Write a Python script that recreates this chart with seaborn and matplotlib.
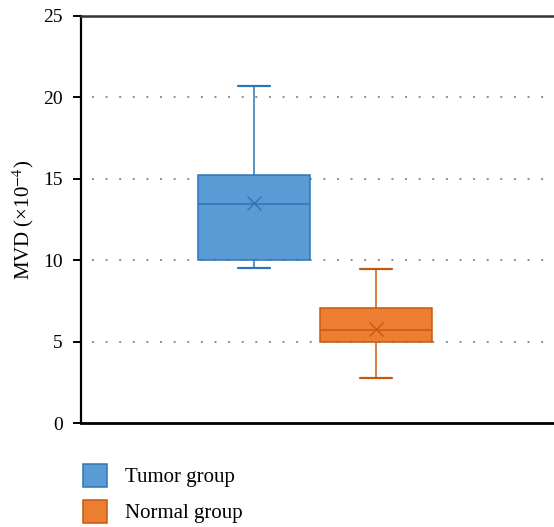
import numpy as np
import pandas as pd
import matplotlib
matplotlib.use("Agg")
import matplotlib.pyplot as plt
import seaborn as sns
from matplotlib.patches import Patch

# Data (arranged so the quartiles/mean match)
groups = ["Tumor group", "Normal group"]
tumor_values = [9.52, 9.8, 10.0, 11.5, 13.45, 14.0, 15.23, 17.3, 20.7]
normal_values = [2.76, 3.5, 4.98, 5.2, 5.7, 6.0, 7.06, 7.54, 9.46]
y_ticks = [0, 5, 10, 15, 20, 25]
y_label = "MVD (×10$^{-4}$)"

fill_colors = ["#5B9BD5", "#ED7D31"]
edge_colors = ["#2E75B6", "#C55A11"]

df = pd.DataFrame({
    "group": [groups[0]] * len(tumor_values) + [groups[1]] * len(normal_values),
    "MVD": tumor_values + normal_values,
})

sns.set_theme(style="white")
plt.rcParams["font.family"] = ["Liberation Serif", "DejaVu Serif"]
plt.rcParams["mathtext.fontset"] = "stix"
plt.rcParams["text.color"] = "black"
plt.rcParams["axes.labelcolor"] = "black"
plt.rcParams["ytick.color"] = "black"

fig = plt.figure(figsize=(5.54, 5.27), dpi=100)
ax = fig.add_axes([81 / 554, 1 - 423 / 527, 1 - 81 / 554, (423 - 16) / 527])

sns.boxplot(data=df, x="group", y="MVD", hue="group", order=groups,
            palette=fill_colors, width=0.92, whis=(0, 100), showmeans=True,
            legend=False, ax=ax, linewidth=1.1, zorder=3)

n = len(groups)
for i, patch in enumerate(ax.patches[:n]):
    patch.set_facecolor(fill_colors[i])
    patch.set_edgecolor(edge_colors[i])
    patch.set_linewidth(1.1)

lines = ax.lines
per = len(lines) // n
for i in range(n):
    for ln in lines[i * per:(i + 1) * per]:
        ln.set_color(edge_colors[i])
        ln.set_zorder(4)
        if ln.get_marker() not in (None, "None", "", " "):
            ln.set_marker("x")
            ln.set_markersize(9.5)
            ln.set_markeredgewidth(1.0)
            ln.set_markeredgecolor(edge_colors[i])
            ln.set_markerfacecolor(edge_colors[i])
        else:
            xd = np.asarray(ln.get_xdata(), dtype=float)
            yd = np.asarray(ln.get_ydata(), dtype=float)
            if len(xd) == 2 and yd[0] == yd[1] and 0 < (xd[1] - xd[0]) < 0.7:
                ln.set_xdata([i - 0.13, i + 0.13])
                ln.set_linewidth(1.6)

ax.set_xlim(-1.418, 2.459)
ax.set_ylim(0, 25)
ax.set_yticks(y_ticks)
ax.set_yticklabels([str(t) for t in y_ticks], fontsize=14, color="black")
ax.set_xticks([])
ax.set_xlabel("")
ax.set_ylabel(y_label, fontsize=15, labelpad=5, color="black")

for yv in y_ticks[1:-1]:
    ax.axhline(yv, color="#8c8c8c", linestyle=(0, (1, 6)), linewidth=1.4,
               xmin=0.024, zorder=1)

for side in ["left", "bottom"]:
    ax.spines[side].set_color("black")
    ax.spines[side].set_linewidth(1.6)
ax.spines["bottom"].set_linewidth(2.0)
ax.spines["top"].set_color("#333333")
ax.spines["top"].set_linewidth(1.8)
ax.spines["right"].set_visible(False)
ax.tick_params(axis="y", which="major", left=True, length=6, width=1.4,
               direction="out", color="black", labelcolor="black", pad=7)

handles = [Patch(facecolor=fill_colors[i], edgecolor=edge_colors[i], linewidth=1.1)
           for i in range(n)]
leg = fig.legend(handles, groups, loc="upper left", bbox_to_anchor=(83 / 554, 1 - 464 / 527),
                 frameon=False, fontsize=15, handlelength=1.15, handleheight=1.3,
                 handletextpad=0.85, labelspacing=0.6, borderpad=0, borderaxespad=0)
for t in leg.get_texts():
    t.set_color("black")

fig.savefig("out.png", dpi=100)
